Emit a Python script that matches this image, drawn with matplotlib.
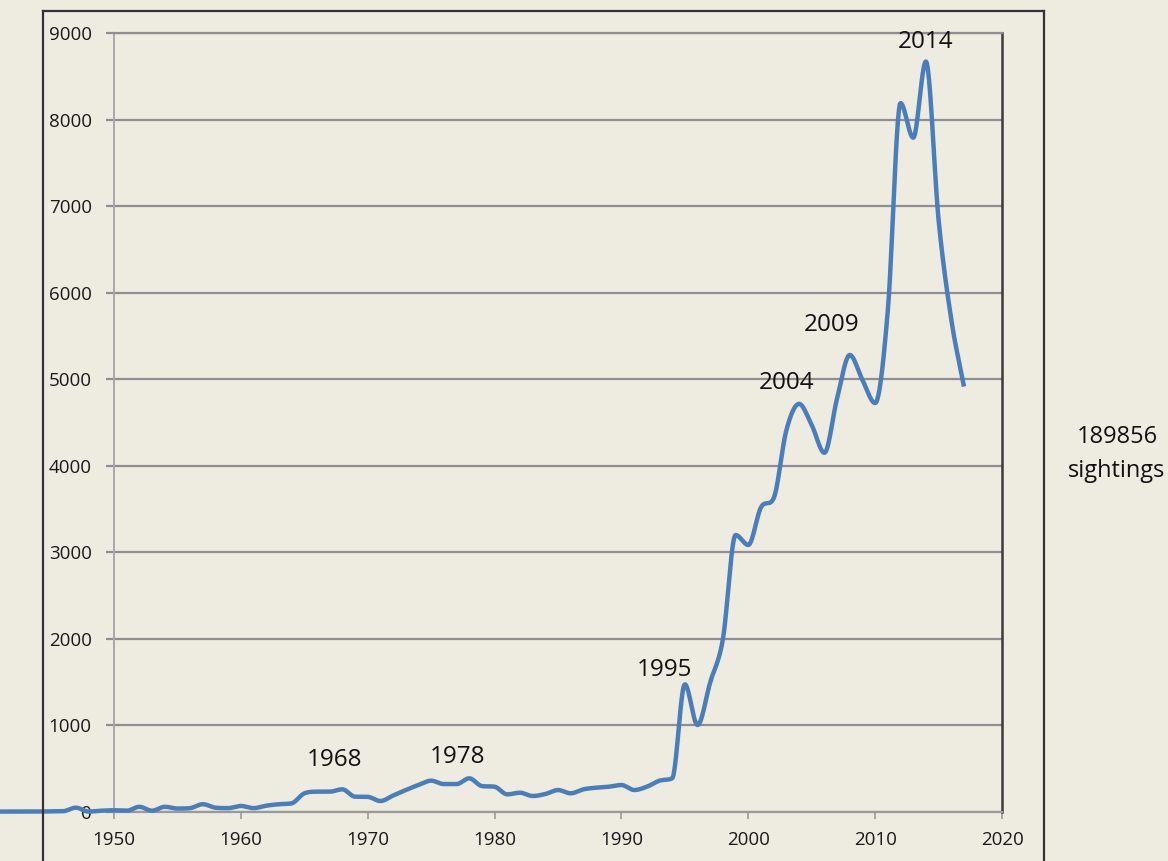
import matplotlib
matplotlib.use("Agg")
import matplotlib.pyplot as plt
from matplotlib.lines import Line2D
import numpy as np

# yearly sightings
years = list(range(1941, 2018))
sightings = [
    5, 5, 5, 5, 8, 10, 50, 5, 15,                       # 1941-1949
    20, 15, 60, 15, 60, 40, 45, 90, 50, 45,             # 1950-1959
    70, 45, 73, 90, 100, 215, 235, 235, 262, 177,       # 1960-1969
    175, 127, 190, 254, 312, 362, 323, 323, 389, 300,   # 1970-1979
    292, 204, 223, 185, 208, 254, 216, 262, 281, 292,   # 1980-1989
    312, 254, 292, 362, 390, 1475, 1005, 1500, 2000, 3200,  # 1990-1999
    3085, 3520, 3625, 4410, 4715, 4470, 4150, 4780, 5280, 4990,  # 2000-2009
    4725, 5800, 8190, 7790, 8670, 6840, 5690, 4915,     # 2010-2017
]

peak_labels = ["1968", "1978", "1995", "2004", "2009", "2014"]
total_text = "189856\nsightings"

BG = "#EEEBE1"
LINE = "#4A7EBB"


def smooth(x, y, steps=24):
    """Smoothed line through the points (cubic Hermite, no overshoot)."""
    x = np.asarray(x, float)
    y = np.asarray(y, float)
    d = np.diff(y) / np.diff(x)
    m = np.zeros_like(y)
    m[0], m[-1] = d[0], d[-1]
    for i in range(1, len(y) - 1):
        if d[i - 1] * d[i] > 0:
            m[i] = 0.5 * (d[i - 1] + d[i])
            lim = 3 * min(abs(d[i - 1]), abs(d[i]))
            m[i] = np.sign(m[i]) * min(abs(m[i]), lim)
    t = np.linspace(0, 1, steps, endpoint=False)
    h00 = 2 * t**3 - 3 * t**2 + 1
    h10 = t**3 - 2 * t**2 + t
    h01 = -2 * t**3 + 3 * t**2
    h11 = t**3 - t**2
    xs, ys = [], []
    for i in range(len(x) - 1):
        h = x[i + 1] - x[i]
        xs.append(x[i] + t * h)
        ys.append(h00 * y[i] + h10 * h * m[i] + h01 * y[i + 1] + h11 * h * m[i + 1])
    xs.append(x[-1:])
    ys.append(y[-1:])
    return np.concatenate(xs), np.concatenate(ys)


plt.rcParams["font.family"] = ["Open Sans", "DejaVu Sans"]

fig = plt.figure(figsize=(11.68, 8.61), dpi=100, facecolor=BG)
ax = fig.add_axes([0.0976, 0.0569, 0.7603, 0.9048])
ax.set_facecolor(BG)

sx, sy = smooth(years, sightings)
ax.plot(sx, sy, color=LINE, lw=3.2, clip_on=False, zorder=3,
        solid_capstyle="butt")

ax.set_xlim(1950, 2020)
ax.set_ylim(0, 9000)
ax.set_xticks(range(1950, 2021, 10))
ax.set_yticks(range(0, 9001, 1000))
ax.yaxis.grid(True, color="#8E8E8E", lw=1.6)
ax.set_axisbelow(True)

ax.tick_params(axis="x", length=5, width=1.2, color="#9A9A9A", pad=9,
               labelsize=13.5, labelcolor="#1A1A1A")
ax.tick_params(axis="y", length=6, width=1.6, color="#8E8E8E", pad=10,
               labelsize=13.5, labelcolor="#1A1A1A")

ax.spines["left"].set_color("#A8A8A8")
ax.spines["left"].set_linewidth(1.4)
ax.spines["bottom"].set_color("#9A9A9A")
ax.spines["bottom"].set_linewidth(1.6)
ax.spines["top"].set_color("#8E8E8E")
ax.spines["top"].set_linewidth(1.6)
ax.spines["right"].set_color("#3A3A3A")
ax.spines["right"].set_linewidth(1.8)

# peak labels, placed above each peak (data coords)
label_pos = [(1967.35, 600), (1977.1, 635), (1993.4, 1640),
             (2003.0, 4956), (2006.6, 5626), (2014.0, 8896)]
for txt, (lx, ly) in zip(peak_labels, label_pos):
    ax.text(lx, ly, txt, ha="center", va="center", fontsize=17.5,
            color="#111111", zorder=4)

fig.text(1117 / 1168, 1 - 454 / 861, total_text, ha="center", va="center",
         fontsize=17, color="#111111", linespacing=1.55)

# outer chart-area frame (cut off at the bottom)
frame = dict(color="#333333", lw=1.6, transform=fig.transFigure)
x0, x1, ytop = 43 / 1168, 1044 / 1168, 1 - 11 / 861
fig.add_artist(Line2D([x0, x0], [0, ytop], **frame))
fig.add_artist(Line2D([x0, x1], [ytop, ytop], **frame))
fig.add_artist(Line2D([x1, x1], [0, ytop], **frame))

fig.savefig("out.png", dpi=100, facecolor=BG)
